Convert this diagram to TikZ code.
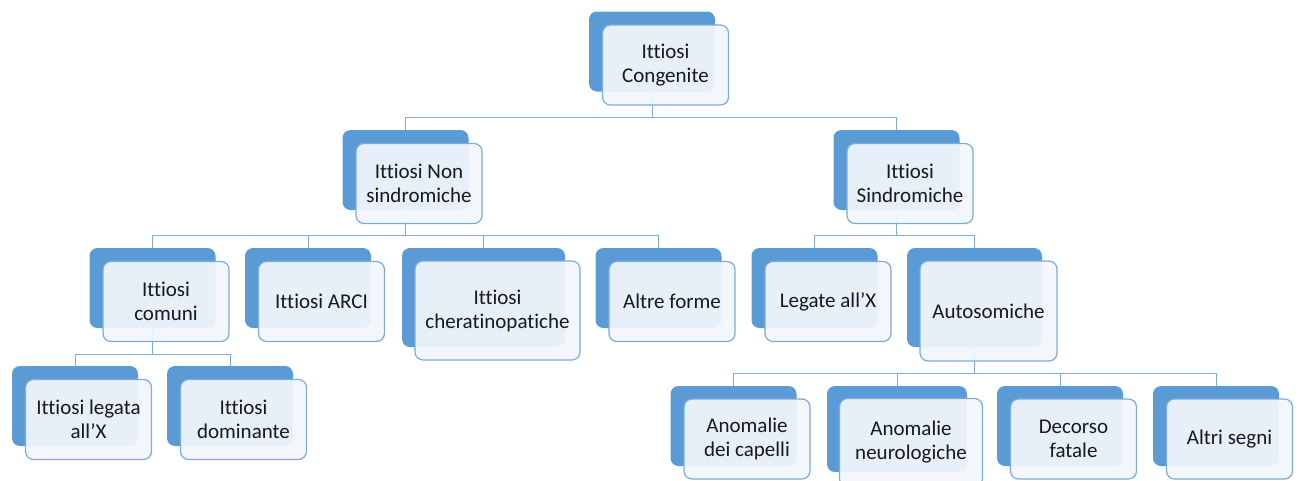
\documentclass[tikz,border=0pt]{standalone}
\usepackage{fontspec}
\setmainfont[Ligatures=NoCommon]{Carlito}
\definecolor{blueback}{RGB}{91,155,213}
\definecolor{blueline}{RGB}{124,171,222}
\definecolor{frontfill}{RGB}{243,247,252}
\definecolor{textgray}{RGB}{25,25,25}

\begin{document}
\begin{tikzpicture}[x=1pt, y=-1pt,
    back/.style = {fill=blueback, rounded corners=8pt, inner sep=0pt,
        minimum width=126pt, minimum height=80pt},
    front/.style = {draw=blueline, line width=1.2pt, fill=frontfill, fill opacity=0.92,
        text opacity=1, rounded corners=8pt, inner sep=0pt, align=center,
        minimum width=126pt, minimum height=80pt, text=textgray,
        font=\fontsize{21}{24}\selectfont},
    link/.style = {draw=blueline, line width=1pt}]
    \useasboundingbox[fill=white] (0,0) rectangle (1301,480);

    % back boxes
    \node[back] (cong)     at (652,51.5) {};
    \node[back] (nonsind)  at (405.5,170) {};
    \node[back] (sind)     at (896.5,170) {};
    \node[back] (comuni)   at (152.5,288) {};
    \node[back] (arci)     at (308,288) {};
    \node[back, minimum width=163pt, minimum height=99pt] (cherat) at (483.5,297.5) {};
    \node[back] (altre)    at (658.5,288) {};
    \node[back] (legate)   at (814.5,288) {};
    \node[back, minimum width=135pt, minimum height=99pt] (autos) at (974.5,297.5) {};
    \node[back] (legatax)  at (75,406) {};
    \node[back] (domin)    at (230,406) {};
    \node[back] (capelli)  at (733.5,426) {};
    \node[back, minimum width=140pt, minimum height=86pt] (neuro) at (897,429) {};
    \node[back] (decorso)  at (1060,426) {};
    \node[back] (segni)    at (1216,426) {};

    % connectors
    \foreach \kid in {nonsind, sind}
        \draw[link] (cong.south) -- ++(0,26) -| (\kid.north);
    \foreach \kid in {comuni, arci, cherat, altre}
        \draw[link] (nonsind.south) -- ++(0,25.5) -| (\kid.north);
    \foreach \kid in {legate, autos}
        \draw[link] (sind.south) -- ++(0,25.5) -| (\kid.north);
    \foreach \kid in {legatax, domin}
        \draw[link] (comuni.south) -- ++(0,26) -| (\kid.north);
    \foreach \kid in {capelli, neuro, decorso, segni}
        \draw[link] (autos.south) -- ++(0,26) -| (\kid.north);

    % front boxes
    \node[front] (congt)    at ([shift={(13.5,13.5)}]cong) {Ittiosi\\Congenite};
    \node[front] (nonsindt) at ([shift={(13.5,13.5)}]nonsind) {Ittiosi Non\\sindromiche};
    \node[front] (sindt)    at ([shift={(13.5,13.5)}]sind) {Ittiosi\\Sindromiche};
    \node[front] (comunit)  at ([shift={(13.5,13.5)}]comuni) {Ittiosi\\comuni};
    \node[front] (arcit)    at ([shift={(13.5,13.5)}]arci) {Ittiosi ARCI};
    \node[front, minimum width=165pt, minimum height=99pt] (cheratt) at ([shift={(14,13)}]cherat) {Ittiosi\\cheratinopatiche};
    \node[front] (altret)   at ([shift={(13.5,13.5)}]altre) {Altre forme};
    \node[front] (legatet)  at ([shift={(13.5,13.5)}]legate) {Legate all’X};
    \node[front, minimum width=137pt, minimum height=100pt] (autost) at ([shift={(14,13.5)}]autos) {Autosomiche};
    \node[front] (legataxt) at ([shift={(13.5,13.5)}]legatax) {Ittiosi legata\\all’X};
    \node[front] (domint)   at ([shift={(13.5,13.5)}]domin) {Ittiosi\\dominante};
    \node[front] (capellit) at ([shift={(13.5,13)}]capelli) {Anomalie\\dei capelli};
    \node[front, minimum width=143pt, minimum height=88pt] (neurot) at ([shift={(14,13.5)}]neuro) {Anomalie\\neurologiche};
    \node[front] (decorsot) at ([shift={(13.5,13)}]decorso) {Decorso\\fatale};
    \node[front] (segnit)   at ([shift={(13.5,13)}]segni) {Altri segni};
\end{tikzpicture}
\end{document}
